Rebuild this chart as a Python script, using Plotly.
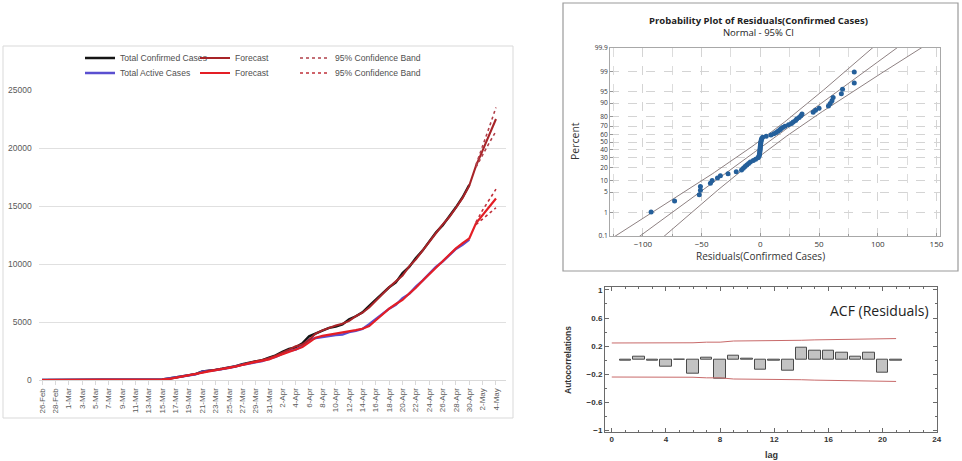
import math
from statistics import NormalDist
import pandas as pd
import plotly.graph_objects as go

W, H = 962, 461


def px(x):
    return x / W


def py(y):
    return 1 - y / H


# ---------------- left chart: cases and forecasts ----------------
dates = [f"{d.day}-{d.strftime('%b')}" for d in pd.date_range("2020-02-26", "2020-05-04")]
obs_dates = dates[:65]
fc_dates = dates[65:]
x_tick_labels = dates[::2]
y_ticks = [0, 5000, 10000, 15000, 20000, 25000]

confirmed = [2, 2, 2, 4, 4, 4, 5, 5, 5, 6, 6, 6, 7,
             16, 19, 20, 28, 31, 53, 136, 236, 299, 454, 501, 730, 776, 875, 972, 1063,
             1201, 1373, 1495, 1597, 1717, 1938,
             2118, 2421, 2686, 2818, 3157, 3766, 4035, 4263, 4489, 4601, 4788, 5230, 5496,
             5837, 6383, 6919, 7481, 7993, 8418, 9216, 9749, 10513, 11155, 11940, 12723,
             13328, 14079, 14885, 15759, 16817]
confirmed_fit = [2, 2, 2, 3, 4, 4, 5, 5, 5, 6, 6, 6, 7,
                 10, 18, 21, 24, 33, 40, 90, 200, 310, 400, 540, 640, 800, 880, 960, 1060,
                 1170, 1320, 1490, 1620, 1730, 1870,
                 2100, 2330, 2620, 2900, 3050, 3450, 4000, 4280, 4500, 4700, 4850, 5100, 5500,
                 5800, 6250, 6850, 7430, 8000, 8500, 9000, 9800, 10400, 11150, 11850, 12650,
                 13400, 14050, 14850, 15700, 16750,
                 18450, 19800, 21150, 22500]
confirmed_upper = [18550, 20100, 21800, 23500]
confirmed_lower = [18350, 19450, 20450, 21450]

active = [2, 2, 2, 4, 4, 4, 5, 5, 5, 6, 6, 6, 6,
          15, 18, 19, 26, 29, 51, 134, 234, 297, 450, 495, 722, 766, 861, 952, 1034,
          1164, 1318, 1430, 1521, 1632, 1838,
          2000, 2260, 2510, 2620, 2920, 3460, 3620, 3700, 3800, 3880, 3920, 4130, 4230,
          4400, 4800, 5230, 5700, 6150, 6480, 7050, 7420, 8050, 8560, 9180, 9760,
          10200, 10780, 11300, 11650, 12100]
active_fit = [2, 2, 2, 3, 4, 4, 5, 5, 5, 6, 6, 6, 6,
              12, 17, 20, 23, 30, 40, 90, 200, 300, 400, 520, 640, 790, 860, 950, 1040,
              1140, 1290, 1430, 1540, 1650, 1780,
              2010, 2220, 2460, 2700, 2850, 3250, 3650, 3800, 3900, 4000, 4100, 4150, 4300,
              4420, 4650, 5150, 5650, 6150, 6550, 6900, 7450, 7950, 8550, 9100, 9700,
              10250, 10750, 11350, 11800, 12200,
              13500, 14250, 14950, 15650]
active_upper = [13600, 14650, 15550, 16450]
active_lower = [13400, 13900, 14400, 14850]

# ---------------- probability plot of residuals ----------------
residuals = [-93, -73, -52, -51, -51, -42.5, -41, -36.5, -34, -27.5, -20.5, -16, -14.5,
             -13, -11.5, -10, -8.5, -6, -4, -2,
             -1.2, -0.9, -0.7, -0.5, -0.4, -0.3, -0.2, -0.1, 0, 0.1, 0.2, 0.3, 0.5, 0.7,
             0.9, 1.2,
             2, 5, 9, 11.5, 13.5, 15, 16.5, 17.5, 19, 21, 24, 26.5, 28, 30, 31, 33, 34.5,
             35.5, 45, 47, 50, 58, 59.5, 61, 62, 69, 70, 80, 80]
percent_ticks = [0.1, 1, 5, 10, 20, 30, 40, 50, 60, 70, 80, 90, 95, 99, 99.9]
resid_x_ticks = [-100, -50, 0, 50, 100, 150]

# ---------------- ACF of residuals ----------------
lags = list(range(1, 22))
acf_vals = [-0.01, 0.05, -0.008, -0.10, 0.008, -0.19, 0.03, -0.27, 0.06, 0.025, -0.14,
            -0.008, -0.155, 0.17, 0.135, 0.135, 0.105, 0.05, 0.105, -0.18, -0.008]
acf_y_ticks = [-1, -0.6, -0.2, 0.2, 0.6, 1]
acf_x_ticks = [0, 4, 8, 12, 16, 20, 24]

# ---------------- derived statistics ----------------
nd = NormalDist()
n = len(residuals)
sres = sorted(residuals)
z_pts = [nd.inv_cdf((i + 1 - 0.3) / (n + 0.4)) for i in range(n)]
mu = sum(sres) / n
sd = math.sqrt(sum((r - mu) ** 2 for r in sres) / (n - 1))
z_grid = [k / 20 for k in range(-70, 71)]
fit_line = [mu + z * sd for z in z_grid]
ci_half = [1.96 * sd * math.sqrt((1 + z * z / 2) / n) for z in z_grid]
ci_lo = [f - h for f, h in zip(fit_line, ci_half)]
ci_hi = [f + h for f, h in zip(fit_line, ci_half)]

lim_lags = [0] + lags
lim = []
cum = 0.0
for k in lags:
    lim.append(1.96 * math.sqrt((1 + 2 * cum) / n))
    cum += acf_vals[k - 1] ** 2
lim = [lim[0]] + lim
lim_neg = [-v for v in lim]

FONT = "Liberation Sans"
GRAY = "#595959"

fig = go.Figure()

# left chart traces
fig.add_trace(go.Scatter(x=obs_dates, y=confirmed, mode="lines", name="Total Confirmed Cases",
                         line=dict(color="#151515", width=2.4), legend="legend",
                         xaxis="x", yaxis="y"))
fig.add_trace(go.Scatter(x=obs_dates, y=active, mode="lines", name="Total Active Cases",
                         line=dict(color="#5a4fd0", width=2.4), legend="legend4",
                         xaxis="x", yaxis="y"))
fig.add_trace(go.Scatter(x=dates, y=confirmed_fit, mode="lines", name="Forecast",
                         line=dict(color="#a82428", width=2.1), legend="legend2",
                         xaxis="x", yaxis="y"))
fig.add_trace(go.Scatter(x=dates, y=active_fit, mode="lines", name="Forecast",
                         line=dict(color="#e41e25", width=2.2), legend="legend5",
                         xaxis="x", yaxis="y"))
fig.add_trace(go.Scatter(x=fc_dates, y=confirmed_upper, mode="lines", name="95% Confidence Band",
                         line=dict(color="#b0404a", width=1.6, dash="dot"), legend="legend3",
                         legendgroup="cb1", xaxis="x", yaxis="y"))
fig.add_trace(go.Scatter(x=fc_dates, y=confirmed_lower, mode="lines", showlegend=False,
                         line=dict(color="#b0404a", width=1.6, dash="dot"),
                         legendgroup="cb1", xaxis="x", yaxis="y"))
fig.add_trace(go.Scatter(x=fc_dates, y=active_upper, mode="lines", name="95% Confidence Band",
                         line=dict(color="#c0303a", width=1.6, dash="dot"), legend="legend6",
                         legendgroup="cb2", xaxis="x", yaxis="y"))
fig.add_trace(go.Scatter(x=fc_dates, y=active_lower, mode="lines", showlegend=False,
                         line=dict(color="#c0303a", width=1.6, dash="dot"),
                         legendgroup="cb2", xaxis="x", yaxis="y"))

# probability plot traces
for ys in (ci_lo, fit_line, ci_hi):
    fig.add_trace(go.Scatter(x=ys, y=z_grid, mode="lines", showlegend=False,
                             line=dict(color="#8e8182", width=1), xaxis="x2", yaxis="y2"))
fig.add_trace(go.Scatter(x=sres, y=z_pts, mode="markers", showlegend=False,
                         marker=dict(color="#245f9a", size=5), xaxis="x2", yaxis="y2"))

# ACF traces
fig.add_trace(go.Bar(x=lags, y=acf_vals, width=0.85, showlegend=False,
                     marker=dict(color="#c3c3c3", line=dict(color="#4a4a4a", width=1)),
                     xaxis="x3", yaxis="y3"))
for ys in (lim, lim_neg):
    fig.add_trace(go.Scatter(x=lim_lags, y=ys, mode="lines", showlegend=False,
                             line=dict(color="#c86a6a", width=1), xaxis="x3", yaxis="y3"))


def leg(x, y):
    return dict(x=px(x), y=py(y), xanchor="left", yanchor="middle", orientation="h",
                bgcolor="rgba(0,0,0,0)", borderwidth=0, itemwidth=30,
                font=dict(family=FONT, size=8.6, color="#4f4f4f"))


def note(text, x, y, size, color="#333333", family="Open Sans", angle=0):
    return dict(text=text, x=px(x), y=py(y), xref="paper", yref="paper", showarrow=False,
                xanchor="center", yanchor="middle", textangle=angle,
                font=dict(family=family, size=size, color=color))


tick_font_left = dict(family=FONT, size=8.5, color=GRAY)
mt_font = dict(family="Open Sans", size=8, color="#333333")
mt_yfont = dict(family="Open Sans", size=6.6, color="#333333")
acf_font = dict(family=FONT, size=8, color="#333333", weight="bold")

fig.update_layout(
    width=W, height=H, margin=dict(l=0, r=0, t=0, b=0, autoexpand=False),
    paper_bgcolor="white", plot_bgcolor="white",
    font=dict(family=FONT, color=GRAY),
    bargap=0,
    legend=leg(80, 58), legend2=leg(195, 58), legend3=leg(295, 58),
    legend4=leg(80, 73), legend5=leg(195, 73), legend6=leg(295, 73),
    xaxis=dict(domain=[px(38.7), px(506)], anchor="y", type="category", automargin=False,
               categoryorder="array", categoryarray=dates,
               range=[-0.5, 69.5], tickmode="array", tickvals=x_tick_labels,
               ticktext=x_tick_labels, tickangle=-90, tickfont=dict(family=FONT, size=8, color=GRAY),
               showgrid=False, showline=True, linecolor="#d9d9d9", linewidth=1,
               ticks="outside", ticklen=4, tickcolor="#d9d9d9", zeroline=False),
    yaxis=dict(domain=[py(380), py(90)], anchor="x", range=[0, 25000], automargin=False,
               tickmode="array", tickvals=y_ticks, ticktext=[str(v) for v in y_ticks],
               tickfont=tick_font_left,
               showgrid=True, gridcolor="#e0e0e0", gridwidth=1, zeroline=False,
               showline=False, ticks="", ticklabelstandoff=6),
    xaxis2=dict(domain=[px(610), px(940)], anchor="y2", range=[-128, 153], automargin=False,
                tickmode="array", tickvals=resid_x_ticks, tickfont=mt_font,
                showgrid=True, gridcolor="#d4d4d4", griddash="dash", gridwidth=1,
                minor=dict(dtick=25, tick0=-125, showgrid=True, gridcolor="#dcdcdc",
                           griddash="dash", ticks="inside", ticklen=2, tickcolor="#999999"),
                showline=True, mirror=True, linecolor="#a8a8a8", linewidth=1,
                ticks="inside", ticklen=3, tickcolor="#999999", zeroline=False),
    yaxis2=dict(domain=[py(236), py(48)], anchor="x2", range=[-3.0902, 3.0902],
                automargin=False,
                tickmode="array", tickvals=[nd.inv_cdf(p / 100) for p in percent_ticks],
                ticktext=[str(p) for p in percent_ticks], tickfont=mt_yfont,
                showgrid=True, gridcolor="#d4d4d4", griddash="dash", gridwidth=1,
                showline=True, mirror=True, linecolor="#a8a8a8", linewidth=1,
                ticks="inside", ticklen=3, tickcolor="#999999", zeroline=False),
    xaxis3=dict(domain=[px(605), px(936.7)], anchor="y3", range=[-0.5, 24], automargin=False,
                tickmode="array", tickvals=acf_x_ticks, tickfont=acf_font,
                showgrid=False, zeroline=False, showline=True, mirror="allticks",
                linecolor="#6a6a6a", linewidth=1, ticks="inside", ticklen=4,
                tickcolor="#6a6a6a",
                minor=dict(dtick=1, tick0=0, ticks="inside", ticklen=2, tickcolor="#6a6a6a")),
    yaxis3=dict(domain=[py(431.7), py(286.7)], anchor="x3", range=[-1.024, 1.047],
                automargin=False,
                tickmode="array", tickvals=acf_y_ticks, tickfont=acf_font,
                showgrid=False, zeroline=False, showline=True, mirror="allticks",
                linecolor="#6a6a6a", linewidth=1, ticks="inside", ticklen=4,
                tickcolor="#6a6a6a",
                minor=dict(tickvals=[-0.8, -0.4, 0, 0.4, 0.8], ticks="inside", ticklen=2,
                           tickcolor="#6a6a6a")),
    shapes=[
        dict(type="rect", xref="paper", yref="paper", x0=px(3), x1=px(513), y0=py(418),
             y1=py(46), line=dict(color="#d9d9d9", width=1)),
        dict(type="rect", xref="paper", yref="paper", x0=px(563), x1=px(958), y0=py(271),
             y1=py(3), line=dict(color="#9a9a9a", width=1.2)),
    ],
    annotations=[
        note("<b>Probability Plot of Residuals(Confirmed Cases)</b><br>Normal - 95% CI",
             758, 26, 9.5, "#222222"),
        note("Percent", 575, 141, 10.5, angle=-90),
        note("Residuals(Confirmed Cases)", 760, 256, 10),
        note("ACF (Residuals)", 879, 310, 14, "#222222"),
        note("<b>Autocorrelations</b>", 568, 360, 8.5, family=FONT, angle=-90),
        note("<b>lag</b>", 771, 455, 9, family=FONT),
    ],
)

fig.write_html("out.html", post_script="document.body.style.margin='0px';",
               config={"displayModeBar": False})
